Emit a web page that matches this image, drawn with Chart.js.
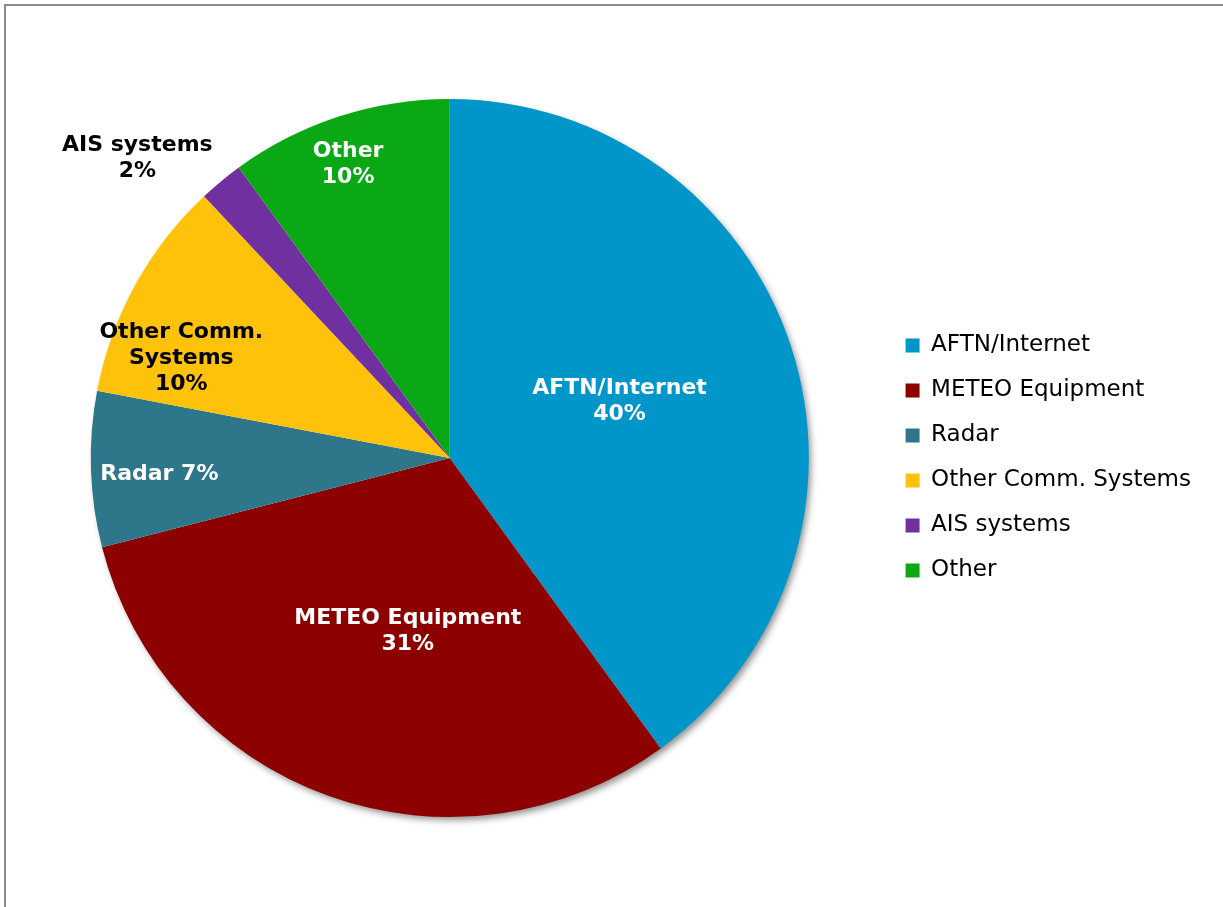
<!DOCTYPE html>
<html>
<head>
<meta charset="utf-8">
<title>Fallas por sistema</title>
<script src="https://cdn.jsdelivr.net/npm/chart.js@4.4.1/dist/chart.umd.min.js"></script>
<style>
  html, body { margin: 0; padding: 0; background: #fff; overflow: hidden; }
  #marco {
    position: absolute; left: 4px; top: 4px; width: 1300px; height: 1000px;
    border-top: 2px solid #8c8c8c; border-left: 2px solid #8c8c8c;
  }
  #contenedor { position: absolute; left: 0; top: 0; width: 1201px; height: 907px; }
</style>
</head>
<body>
<div id="marco"></div>
<div id="contenedor"><canvas id="myChart"></canvas></div>
<script>
const categorias = ["AFTN/Internet", "METEO Equipment", "Radar", "Other Comm. Systems", "AIS systems", "Other"];
const porcentajes = [40, 31, 7, 10, 2, 10];
const colores = ["#0096c9", "#8c0000", "#2e768a", "#ffc20a", "#7030a0", "#0aa814"];

// texto de las etiquetas sobre el pastel (el porcentaje se agrega al dibujar)
const lineasEtiqueta = [["AFTN/Internet"], ["METEO Equipment"], ["Radar"], ["Other Comm.", "Systems"], ["AIS systems"], ["Other"]];
const porcentajeEnLinea = [false, false, true, false, false, false];
const colorEtiqueta = ["#fff", "#fff", "#fff", "#000", "#000", "#fff"];
// posicion de cada etiqueta: fraccion del radio y giro en grados respecto al centro del sector
const radioEtiqueta = [0.5, 0.49, 0.81, 0.8, 1.21, 0.87];
const giroEtiqueta = [-1, -6, -1, -8, -6.4, -1];

const ctx = document.getElementById("myChart").getContext("2d");

// sombra suave detras del pastel
const sombra = {
  id: "sombra",
  beforeDatasetsDraw(chart) {
    const arco = chart.getDatasetMeta(0).data[0];
    if (!arco) return;
    const p = arco.getProps(["x", "y", "outerRadius"], true);
    const c = chart.ctx;
    c.save();
    c.shadowColor = "rgba(0, 0, 0, 0.45)";
    c.shadowBlur = 7;
    c.shadowOffsetX = 3;
    c.shadowOffsetY = 4;
    c.fillStyle = "#fff";
    c.beginPath();
    c.arc(p.x, p.y, p.outerRadius - 1, 0, Math.PI * 2);
    c.fill();
    c.restore();
  }
};

const etiquetas = {
  id: "etiquetas",
  afterDatasetsDraw(chart) {
    const c = chart.ctx;
    const meta = chart.getDatasetMeta(0);
    const alto = 26;
    c.save();
    c.font = "bold 22px 'DejaVu Sans', Verdana, sans-serif";
    c.textAlign = "center";
    c.textBaseline = "middle";
    meta.data.forEach((arco, i) => {
      const p = arco.getProps(["x", "y", "startAngle", "endAngle", "outerRadius"], true);
      const ang = (p.startAngle + p.endAngle) / 2 + giroEtiqueta[i] * Math.PI / 180;
      const r = p.outerRadius * radioEtiqueta[i];
      const x = p.x + Math.cos(ang) * r;
      const y = p.y + Math.sin(ang) * r + 2;
      const texto = porcentajes[i] + "%";
      let lineas = lineasEtiqueta[i].slice();
      if (porcentajeEnLinea[i]) {
        lineas[lineas.length - 1] += " " + texto;
      } else {
        lineas.push(texto);
      }
      c.fillStyle = colorEtiqueta[i];
      const y0 = y - (lineas.length - 1) * alto / 2;
      lineas.forEach((l, j) => c.fillText(l, x, y0 + j * alto));
    });
    c.restore();
  }
};

new Chart(ctx, {
  type: "pie",
  data: {
    labels: categorias,
    datasets: [
      {
        data: porcentajes,
        backgroundColor: colores,
        borderWidth: 0,
        hoverOffset: 0,
      },
    ],
  },
  options: {
    responsive: true,
    maintainAspectRatio: false,
    animation: false,
    layout: {
      padding: { left: 16, top: 99, bottom: 90, right: 0 },
    },
    plugins: {
      legend: {
        position: "right",
        labels: {
          color: "#000",
          boxWidth: 14,
          boxHeight: 14,
          padding: 22,
          font: { family: "'DejaVu Sans', Verdana, sans-serif", size: 23 },
        },
      },
      tooltip: { enabled: false },
    },
  },
  plugins: [sombra, etiquetas],
});
</script>
</body>
</html>
